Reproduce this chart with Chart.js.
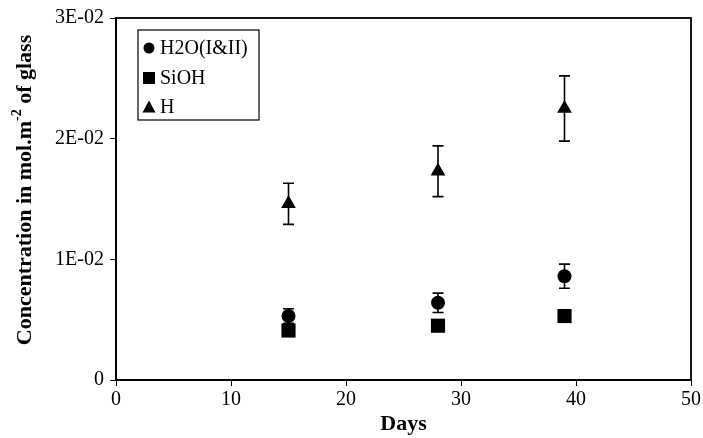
<!DOCTYPE html>
<html>
<head>
<meta charset="utf-8">
<script src="https://cdn.jsdelivr.net/npm/chart.js@4"></script>
<style>
  body { margin: 0; background: #fff; }
  #wrap { width: 703px; height: 438px; }
</style>
</head>
<body>
<div id="wrap"><canvas id="myChart"></canvas></div>
<script>
// values
const days = [15, 28, 39];
const h2o = [0.0053, 0.0064, 0.0086];
const h2oErr = [0.0006, 0.0008, 0.0010];
const sioh = [0.0041, 0.0045, 0.0053];
const siohErr = [0, 0, 0];
const hVals = [0.0146, 0.0173, 0.0225];
const hErr = [0.0017, 0.0021, 0.0027];

const seriesNames = ['H2O(I&II)', 'SiOH', 'H'];
const yTicks = [0, 0.01, 0.02, 0.03];
const yTickLabels = ['0', '1E-02', '2E-02', '3E-02'];

const serif = '"Liberation Serif", "Times New Roman", serif';

function pts(vals) {
  return days.map((d, i) => ({ x: d, y: vals[i] }));
}

// error bars behind markers
const errorBars = {
  id: 'errorBars',
  beforeDatasetsDraw(chart) {
    const ctx = chart.ctx;
    const xs = chart.scales.x, ys = chart.scales.y;
    ctx.save();
    ctx.strokeStyle = '#000';
    ctx.lineWidth = 1.6;
    chart.data.datasets.forEach(ds => {
      ds.errors.forEach((e, i) => {
        if (!e) return;
        const px = xs.getPixelForValue(days[i]);
        const top = ys.getPixelForValue(ds.data[i].y + e);
        const bot = ys.getPixelForValue(ds.data[i].y - e);
        ctx.beginPath();
        ctx.moveTo(px, top); ctx.lineTo(px, bot);
        ctx.moveTo(px - 5.5, top); ctx.lineTo(px + 5.5, top);
        ctx.moveTo(px - 5.5, bot); ctx.lineTo(px + 5.5, bot);
        ctx.stroke();
      });
    });
    ctx.restore();
  }
};

// frame, y title with superscript, boxed legend
const extras = {
  id: 'extras',
  afterDraw(chart) {
    const ctx = chart.ctx;
    const a = chart.chartArea;
    ctx.save();
    ctx.strokeStyle = '#000';
    ctx.lineWidth = 1.8;
    ctx.strokeRect(a.left, a.top, a.right - a.left, a.bottom - a.top);

    // y axis title
    ctx.translate(25, 190);
    ctx.rotate(-Math.PI / 2);
    ctx.fillStyle = '#000';
    ctx.textBaseline = 'middle';
    const p1 = 'Concentration in mol.m', sup = '-2', p2 = ' of glass';
    ctx.font = 'bold 22px ' + serif;
    const w1 = ctx.measureText(p1).width, w3 = ctx.measureText(p2).width;
    ctx.font = 'bold 14px ' + serif;
    const w2 = ctx.measureText(sup).width;
    let x = -(w1 + w2 + w3) / 2;
    ctx.font = 'bold 22px ' + serif;
    ctx.fillText(p1, x, 0);
    ctx.font = 'bold 14px ' + serif;
    ctx.fillText(sup, x + w1, -8);
    ctx.font = 'bold 22px ' + serif;
    ctx.fillText(p2, x + w1 + w2, 0);
    ctx.restore();

    // legend box
    ctx.save();
    ctx.strokeStyle = '#000';
    ctx.lineWidth = 1.2;
    ctx.fillStyle = '#fff';
    ctx.fillRect(138, 30, 121, 90);
    ctx.strokeRect(138, 30, 121, 90);
    ctx.fillStyle = '#000';
    ctx.font = '20px ' + serif;
    ctx.textBaseline = 'middle';
    const rowY = [48, 78, 107];
    chart.data.datasets.forEach((ds, i) => {
      const cy = rowY[i], cx = 149;
      ctx.beginPath();
      if (ds.pointStyle === 'circle') {
        ctx.arc(cx, cy, 5.5, 0, Math.PI * 2);
      } else if (ds.pointStyle === 'rect') {
        ctx.rect(cx - 6, cy - 6, 12, 12);
      } else {
        ctx.moveTo(cx, cy - 6.5); ctx.lineTo(cx + 6.5, cy + 5.5); ctx.lineTo(cx - 6.5, cy + 5.5);
        ctx.closePath();
      }
      ctx.fill();
      ctx.fillText(ds.label, 160, cy + 1);
    });
    ctx.restore();
  }
};

new Chart(document.getElementById('myChart'), {
  type: 'scatter',
  data: {
    datasets: [
      { label: seriesNames[0], data: pts(h2o), errors: h2oErr, pointStyle: 'circle', pointRadius: 7, pointHoverRadius: 7,
        backgroundColor: '#000', borderColor: '#000', borderWidth: 0 },
      { label: seriesNames[1], data: pts(sioh), errors: siohErr, pointStyle: 'rect', pointRadius: 10, pointHoverRadius: 10,
        backgroundColor: '#000', borderColor: '#000', borderWidth: 0 },
      { label: seriesNames[2], data: pts(hVals), errors: hErr, pointStyle: 'triangle', pointRadius: 8.5, pointHoverRadius: 8.5,
        backgroundColor: '#000', borderColor: '#000', borderWidth: 0 }
    ]
  },
  options: {
    responsive: true,
    maintainAspectRatio: false,
    animation: false,
    layout: { padding: { top: 15, right: 12, left: 0, bottom: 0 } },
    plugins: { legend: { display: false }, tooltip: { enabled: false } },
    scales: {
      x: {
        type: 'linear', min: 0, max: 50,
        ticks: { stepSize: 10, color: '#000', font: { family: serif, size: 20 }, padding: 2, maxRotation: 0 },
        grid: { drawOnChartArea: false, tickLength: 6, color: '#000' },
        border: { color: '#000', width: 1.8 },
        title: { display: true, text: 'Days', color: '#000', font: { family: serif, size: 22, weight: 'bold' }, padding: { top: 0, bottom: 0 } },
        afterFit(s) { s.height = 58; }
      },
      y: {
        min: 0, max: 0.03,
        afterBuildTicks(s) { s.ticks = yTicks.map(v => ({ value: v })); },
        ticks: { color: '#000', font: { family: serif, size: 20 }, padding: 6,
          callback: (v) => yTickLabels[yTicks.indexOf(v)] },
        grid: { drawOnChartArea: false, tickLength: 6, color: '#000' },
        border: { color: '#000', width: 1.8 },
        afterFit(s) { s.width = 116; }
      }
    }
  },
  plugins: [errorBars, extras]
});
</script>
</body>
</html>
